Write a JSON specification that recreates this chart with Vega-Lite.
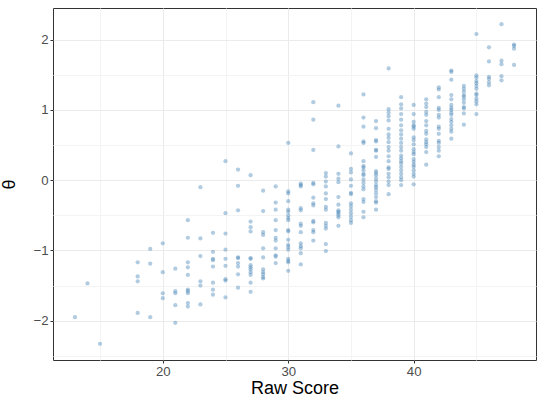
{
  "$schema": "https://vega.github.io/schema/vega-lite/v6.json",
  "width": 483,
  "height": 352,
  "autosize": "none",
  "padding": {"left": 53, "top": 8, "right": 1, "bottom": 39},
  "background": "white",
  "config": {
    "view": {"stroke": "#333333", "strokeWidth": 1},
    "axis": {"domain": false, "labelFont": "Liberation Sans", "titleFont": "Liberation Sans", "labelColor": "#4D4D4D", "labelFontSize": 13.2, "titleFontSize": 18, "titleFontWeight": "normal", "titleColor": "#000000", "tickColor": "#333333", "tickSize": 3, "gridWidth": 1}
  },
  "data": {"values": [
    {"score":13,"theta":-1.95},{"score":14,"theta":-1.47},{"score":15,"theta":-2.33},
    {"score":18,"theta":-1.17},{"score":18,"theta":-1.37},{"score":18,"theta":-1.44},{"score":18,"theta":-1.89},
    {"score":19,"theta":-0.98},{"score":19,"theta":-1.19},{"score":19,"theta":-1.95},
    {"score":20,"theta":-0.90},{"score":20,"theta":-1.31},{"score":20,"theta":-1.61},{"score":20,"theta":-1.68},
    {"score":21,"theta":-1.26},{"score":21,"theta":-1.58},{"score":21,"theta":-1.61},{"score":21,"theta":-1.78},{"score":21,"theta":-2.03},
    {"score":22,"theta":-0.57},{"score":22,"theta":-0.82},{"score":22,"theta":-1.17},{"score":22,"theta":-1.24},{"score":22,"theta":-1.35},{"score":22,"theta":-1.56},{"score":22,"theta":-1.58},{"score":22,"theta":-1.61},{"score":22,"theta":-1.75},{"score":22,"theta":-1.80},
    {"score":23,"theta":-0.10},{"score":23,"theta":-0.83},{"score":23,"theta":-1.08},{"score":23,"theta":-1.44},{"score":23,"theta":-1.50},{"score":23,"theta":-1.77},
    {"score":24,"theta":-0.75},{"score":24,"theta":-1.02},{"score":24,"theta":-1.12},{"score":24,"theta":-1.14},{"score":24,"theta":-1.23},{"score":24,"theta":-1.46},{"score":24,"theta":-1.56},{"score":24,"theta":-1.63},
    {"score":25,"theta":0.27},{"score":25,"theta":-0.47},{"score":25,"theta":-0.76},{"score":25,"theta":-0.99},{"score":25,"theta":-1.12},{"score":25,"theta":-1.22},{"score":25,"theta":-1.41},{"score":25,"theta":-1.43},{"score":25,"theta":-1.67},
    {"score":26,"theta":0.15},{"score":26,"theta":-0.08},{"score":26,"theta":-0.43},{"score":26,"theta":-1.10},{"score":26,"theta":-1.11},{"score":26,"theta":-1.18},{"score":26,"theta":-1.23},{"score":26,"theta":-1.34},{"score":26,"theta":-1.53},
    {"score":27,"theta":0.07},{"score":27,"theta":-0.59},{"score":27,"theta":-0.67},{"score":27,"theta":-0.73},{"score":27,"theta":-1.11},{"score":27,"theta":-1.12},{"score":27,"theta":-1.21},{"score":27,"theta":-1.24},{"score":27,"theta":-1.27},{"score":27,"theta":-1.31},{"score":27,"theta":-1.35},{"score":27,"theta":-1.46},{"score":27,"theta":-1.59},
    {"score":28,"theta":-0.15},{"score":28,"theta":-0.44},{"score":28,"theta":-0.74},{"score":28,"theta":-0.78},{"score":28,"theta":-0.97},{"score":28,"theta":-1.10},{"score":28,"theta":-1.27},{"score":28,"theta":-1.31},{"score":28,"theta":-1.34},{"score":28,"theta":-1.38},{"score":28,"theta":-1.40},
    {"score":29,"theta":-0.09},{"score":29,"theta":-0.32},{"score":29,"theta":-0.42},{"score":29,"theta":-0.57},{"score":29,"theta":-0.71},{"score":29,"theta":-0.82},{"score":29,"theta":-0.86},{"score":29,"theta":-0.97},{"score":29,"theta":-1.07},{"score":29,"theta":-1.09},{"score":29,"theta":-1.18},
    {"score":30,"theta":0.53},{"score":30,"theta":-0.16},{"score":30,"theta":-0.19},{"score":30,"theta":-0.30},{"score":30,"theta":-0.42},{"score":30,"theta":-0.45},{"score":30,"theta":-0.50},{"score":30,"theta":-0.54},{"score":30,"theta":-0.57},{"score":30,"theta":-0.71},{"score":30,"theta":-0.73},{"score":30,"theta":-0.85},{"score":30,"theta":-0.92},{"score":30,"theta":-0.95},{"score":30,"theta":-0.99},{"score":30,"theta":-1.12},{"score":30,"theta":-1.15},{"score":30,"theta":-1.17},{"score":30,"theta":-1.29},
    {"score":31,"theta":-0.05},{"score":31,"theta":-0.07},{"score":31,"theta":-0.09},{"score":31,"theta":-0.40},{"score":31,"theta":-0.43},{"score":31,"theta":-0.62},{"score":31,"theta":-0.65},{"score":31,"theta":-0.74},{"score":31,"theta":-0.90},{"score":31,"theta":-0.94},{"score":31,"theta":-0.97},{"score":31,"theta":-1.04},{"score":31,"theta":-1.20},
    {"score":32,"theta":1.11},{"score":32,"theta":0.86},{"score":32,"theta":0.43},{"score":32,"theta":-0.04},{"score":32,"theta":-0.06},{"score":32,"theta":-0.25},{"score":32,"theta":-0.33},{"score":32,"theta":-0.36},{"score":32,"theta":-0.58},{"score":32,"theta":-0.60},{"score":32,"theta":-0.71},{"score":32,"theta":-0.74},{"score":32,"theta":-0.86},
    {"score":33,"theta":0.10},{"score":33,"theta":0.05},{"score":33,"theta":-0.02},{"score":33,"theta":-0.09},{"score":33,"theta":-0.19},{"score":33,"theta":-0.27},{"score":33,"theta":-0.38},{"score":33,"theta":-0.42},{"score":33,"theta":-0.61},{"score":33,"theta":-0.65},{"score":33,"theta":-0.69},{"score":33,"theta":-0.91},{"score":33,"theta":-1.01},
    {"score":34,"theta":1.06},{"score":34,"theta":0.48},{"score":34,"theta":0.09},{"score":34,"theta":0.02},{"score":34,"theta":-0.03},{"score":34,"theta":-0.24},{"score":34,"theta":-0.35},{"score":34,"theta":-0.43},{"score":34,"theta":-0.45},{"score":34,"theta":-0.47},{"score":34,"theta":-0.50},{"score":34,"theta":-0.53},{"score":34,"theta":-0.65},
    {"score":35,"theta":0.38},{"score":35,"theta":0.16},{"score":35,"theta":0.11},{"score":35,"theta":0.01},{"score":35,"theta":-0.08},{"score":35,"theta":-0.18},{"score":35,"theta":-0.20},{"score":35,"theta":-0.33},{"score":35,"theta":-0.37},{"score":35,"theta":-0.42},{"score":35,"theta":-0.47},{"score":35,"theta":-0.52},{"score":35,"theta":-0.57},{"score":35,"theta":-0.61},
    {"score":36,"theta":1.22},{"score":36,"theta":0.89},{"score":36,"theta":0.76},{"score":36,"theta":0.55},{"score":36,"theta":0.53},{"score":36,"theta":0.27},{"score":36,"theta":0.20},{"score":36,"theta":0.18},{"score":36,"theta":0.14},{"score":36,"theta":0.09},{"score":36,"theta":0.07},{"score":36,"theta":0.01},{"score":36,"theta":-0.04},{"score":36,"theta":-0.09},{"score":36,"theta":-0.13},{"score":36,"theta":-0.27},{"score":36,"theta":-0.31},{"score":36,"theta":-0.45},{"score":36,"theta":-0.53},
    {"score":37,"theta":0.84},{"score":37,"theta":0.74},{"score":37,"theta":0.57},{"score":37,"theta":0.55},{"score":37,"theta":0.43},{"score":37,"theta":0.42},{"score":37,"theta":0.33},{"score":37,"theta":0.13},{"score":37,"theta":0.10},{"score":37,"theta":0.07},{"score":37,"theta":0.02},{"score":37,"theta":-0.02},{"score":37,"theta":-0.07},{"score":37,"theta":-0.10},{"score":37,"theta":-0.14},{"score":37,"theta":-0.19},{"score":37,"theta":-0.24},{"score":37,"theta":-0.30},{"score":37,"theta":-0.32},{"score":37,"theta":-0.42},
    {"score":38,"theta":1.59},{"score":38,"theta":1.01},{"score":38,"theta":0.96},{"score":38,"theta":0.91},{"score":38,"theta":0.85},{"score":38,"theta":0.73},{"score":38,"theta":0.65},{"score":38,"theta":0.60},{"score":38,"theta":0.54},{"score":38,"theta":0.47},{"score":38,"theta":0.42},{"score":38,"theta":0.34},{"score":38,"theta":0.27},{"score":38,"theta":0.18},{"score":38,"theta":0.16},{"score":38,"theta":0.09},{"score":38,"theta":0.04},{"score":38,"theta":-0.02},{"score":38,"theta":-0.07},{"score":38,"theta":-0.20},
    {"score":39,"theta":1.18},{"score":39,"theta":1.08},{"score":39,"theta":1.02},{"score":39,"theta":0.94},{"score":39,"theta":0.86},{"score":39,"theta":0.78},{"score":39,"theta":0.71},{"score":39,"theta":0.65},{"score":39,"theta":0.59},{"score":39,"theta":0.53},{"score":39,"theta":0.47},{"score":39,"theta":0.42},{"score":39,"theta":0.35},{"score":39,"theta":0.31},{"score":39,"theta":0.27},{"score":39,"theta":0.24},{"score":39,"theta":0.19},{"score":39,"theta":0.14},{"score":39,"theta":0.09},{"score":39,"theta":0.04},{"score":39,"theta":0.00},{"score":39,"theta":-0.07},
    {"score":40,"theta":1.07},{"score":40,"theta":0.94},{"score":40,"theta":0.83},{"score":40,"theta":0.78},{"score":40,"theta":0.76},{"score":40,"theta":0.73},{"score":40,"theta":0.61},{"score":40,"theta":0.57},{"score":40,"theta":0.51},{"score":40,"theta":0.44},{"score":40,"theta":0.40},{"score":40,"theta":0.37},{"score":40,"theta":0.30},{"score":40,"theta":0.26},{"score":40,"theta":0.22},{"score":40,"theta":0.19},{"score":40,"theta":0.14},{"score":40,"theta":0.09},{"score":40,"theta":0.05},{"score":40,"theta":-0.06},
    {"score":41,"theta":1.15},{"score":41,"theta":1.09},{"score":41,"theta":1.04},{"score":41,"theta":0.97},{"score":41,"theta":0.93},{"score":41,"theta":0.84},{"score":41,"theta":0.78},{"score":41,"theta":0.70},{"score":41,"theta":0.66},{"score":41,"theta":0.58},{"score":41,"theta":0.54},{"score":41,"theta":0.51},{"score":41,"theta":0.47},{"score":41,"theta":0.40},{"score":41,"theta":0.22},
    {"score":42,"theta":1.32},{"score":42,"theta":1.29},{"score":42,"theta":1.18},{"score":42,"theta":1.03},{"score":42,"theta":1.00},{"score":42,"theta":0.93},{"score":42,"theta":0.89},{"score":42,"theta":0.76},{"score":42,"theta":0.73},{"score":42,"theta":0.66},{"score":42,"theta":0.56},{"score":42,"theta":0.53},{"score":42,"theta":0.47},{"score":42,"theta":0.42},{"score":42,"theta":0.34},
    {"score":43,"theta":1.56},{"score":43,"theta":1.54},{"score":43,"theta":1.43},{"score":43,"theta":1.21},{"score":43,"theta":1.15},{"score":43,"theta":1.07},{"score":43,"theta":1.03},{"score":43,"theta":1.00},{"score":43,"theta":0.96},{"score":43,"theta":0.93},{"score":43,"theta":0.87},{"score":43,"theta":0.83},{"score":43,"theta":0.78},{"score":43,"theta":0.73},{"score":43,"theta":0.69},{"score":43,"theta":0.59},
    {"score":44,"theta":1.34},{"score":44,"theta":1.30},{"score":44,"theta":1.26},{"score":44,"theta":1.21},{"score":44,"theta":1.19},{"score":44,"theta":1.15},{"score":44,"theta":1.10},{"score":44,"theta":1.04},{"score":44,"theta":1.02},{"score":44,"theta":0.95},{"score":44,"theta":0.79},
    {"score":45,"theta":2.08},{"score":45,"theta":1.49},{"score":45,"theta":1.46},{"score":45,"theta":1.41},{"score":45,"theta":1.38},{"score":45,"theta":1.34},{"score":45,"theta":1.30},{"score":45,"theta":1.23},{"score":45,"theta":1.21},{"score":45,"theta":1.16},{"score":45,"theta":1.12},{"score":45,"theta":1.08},{"score":45,"theta":0.94},
    {"score":46,"theta":1.89},{"score":46,"theta":1.69},{"score":46,"theta":1.47},{"score":46,"theta":1.44},{"score":46,"theta":1.39},{"score":46,"theta":1.35},
    {"score":47,"theta":2.22},{"score":47,"theta":1.70},{"score":47,"theta":1.65},{"score":47,"theta":1.48},{"score":47,"theta":1.42},
    {"score":48,"theta":1.93},{"score":48,"theta":1.91},{"score":48,"theta":1.87},{"score":48,"theta":1.64}
  ]},
  "mark": {"type": "circle", "color": "#4682B4", "opacity": 0.42, "size": 18},
  "encoding": {
    "x": {
      "field": "score", "type": "quantitative", "title": "Raw Score",
      "scale": {"domain": [11.25, 49.75], "nice": false, "zero": false},
      "axis": {
        "values": [15, 20, 25, 30, 35, 40, 45],
        "labelExpr": "datum.value % 10 === 0 ? format(datum.value, 'd') : ''",
        "gridColor": {"condition": {"test": "datum.value % 10 !== 0", "value": "#F4F4F4"}, "value": "#EBEBEB"},
        "tickOpacity": {"condition": {"test": "datum.value % 10 !== 0", "value": 0}, "value": 1},
        "labelPadding": 2, "titlePadding": 2
      }
    },
    "y": {
      "field": "theta", "type": "quantitative", "title": "θ",
      "scale": {"domain": [-2.56, 2.45], "nice": false, "zero": false},
      "axis": {
        "values": [-2.5, -2, -1.5, -1, -0.5, 0, 0.5, 1, 1.5, 2],
        "labelExpr": "datum.value % 1 === 0 ? format(datum.value, 'd') : ''",
        "gridColor": {"condition": {"test": "datum.value % 1 !== 0", "value": "#F4F4F4"}, "value": "#EBEBEB"},
        "tickOpacity": {"condition": {"test": "datum.value % 1 !== 0", "value": 0}, "value": 1},
        "labelPadding": 2, "titlePadding": 14, "titleAngle": -90
      }
    }
  }
}
